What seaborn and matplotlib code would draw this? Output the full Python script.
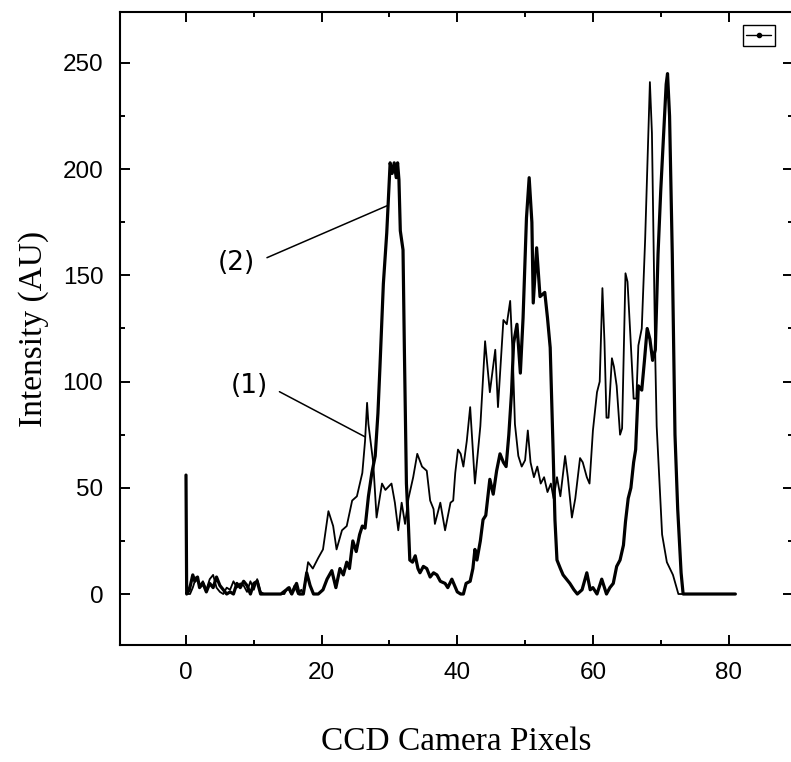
import numpy as np
import pandas as pd
import seaborn as sns
import matplotlib.pyplot as plt
from matplotlib.lines import Line2D
from matplotlib.ticker import MultipleLocator

# %% Data (CCD pixel vs intensity)
pix_2 = [0, 0.1, 0.5, 1.0, 1.3, 1.7, 2.0, 2.5, 3.0, 3.5, 4.0, 4.5, 5.0, 5.5, 6.0, 6.5,
         7.0, 7.5, 8.0, 8.5, 9.0, 9.5, 10.0, 10.5, 11.0, 12.0, 14.0, 15.2, 15.6, 16.3,
         16.7, 17.3, 17.8, 18.3, 18.8, 19.5, 20.2, 20.8, 21.5, 22.1, 22.7, 23.2, 23.7,
         24.1, 24.6, 25.1, 25.6, 26.0, 26.4, 26.9, 27.4, 27.9, 28.3, 28.6, 29.1, 29.6,
         29.9, 30.1, 30.4, 30.7, 31.0, 31.2, 31.4, 31.6, 32.0, 32.2, 32.5, 32.8, 33.0,
         33.4, 33.8, 34.2, 34.5, 35.0, 35.5, 36.0, 36.5, 37.0, 37.5, 38.2, 38.6, 39.2,
         39.6, 40.0, 40.5, 40.9, 41.3, 41.9, 42.3, 42.6, 42.9, 43.4, 43.8, 44.2, 44.8,
         45.3, 45.8, 46.3, 46.8, 47.2, 47.6, 48.0, 48.3, 48.8, 49.3, 49.7, 50.2, 50.6,
         51.0, 51.2, 51.7, 52.2, 52.9, 53.3, 53.7, 54.1, 54.4, 54.7, 55.2, 55.6, 56.1,
         56.6, 57.2, 57.7, 58.4, 59.1, 59.6, 60.0, 60.6, 61.3, 62.0, 62.5, 63.0, 63.5,
         64.0, 64.5, 64.8, 65.2, 65.6, 66.0, 66.3, 66.7, 67.2, 67.6, 68.0, 68.4, 68.8,
         69.2, 69.6, 70.0, 70.4, 70.8, 71.0, 71.3, 71.7, 72.1, 72.5, 73.0, 73.3, 81.0]
int_2 = [56, 0, 2, 9, 6, 8, 3, 5, 1, 5, 3, 8, 4, 2, 0, 1,
         0, 5, 3, 6, 4, 0, 5, 6, 0, 0, 0, 3, 0, 5,
         0, 0, 10, 4, 0, 0, 2, 7, 11, 3, 12, 9, 15,
         12, 25, 20, 28, 32, 31, 46, 57, 65, 85, 107, 146, 170,
         190, 203, 198, 203, 196, 203, 195, 171, 162, 115, 52, 32, 16,
         15, 18, 12, 10, 13, 12, 8, 10, 9, 6, 5, 3, 7,
         4, 1, 0, 0, 5, 6, 12, 21, 16, 25, 35, 37, 54,
         47, 58, 66, 62, 60, 75, 95, 118, 127, 104, 130, 177, 196,
         175, 137, 163, 140, 142, 130, 116, 71, 35, 16, 12, 9, 7,
         5, 2, 0, 2, 10, 2, 3, 0, 7, 0, 3, 5, 13,
         16, 23, 34, 45, 50, 62, 68, 98, 96, 110, 125, 120, 110,
         115, 160, 190, 215, 240, 245, 225, 160, 75, 40, 10, 0, 0]

pix_1 = [0.2, 0.6, 1.0, 1.5, 2.0, 2.5, 3.0, 3.5, 4.0, 4.5, 5.0, 5.5, 6.0, 6.5, 7.0,
         7.5, 8.0, 8.5, 9.0, 9.5, 10.0, 10.5, 11.0, 11.5, 14.5, 15.0, 15.5, 16.0, 16.5,
         17.0, 17.3, 18.0, 18.7, 19.5, 20.2, 21.0, 21.7, 22.2, 23.0, 23.7, 24.5, 25.2,
         26.0, 26.4, 26.7, 26.9, 27.6, 28.1, 28.9, 29.4, 30.3, 30.8, 31.3, 31.8, 32.3,
         32.8, 33.5, 34.1, 34.8, 35.5, 36.0, 36.5, 36.7, 37.5, 38.2, 39.0, 39.4, 39.7,
         40.1, 40.5, 40.9, 41.4, 41.9, 42.6, 43.4, 44.1, 44.8, 45.6, 46.0, 46.8, 47.3,
         47.8, 48.2, 48.5, 49.0, 49.5, 50.0, 50.4, 50.8, 51.3, 51.8, 52.3, 52.8, 53.3,
         53.8, 54.2, 54.7, 55.2, 55.9, 56.3, 56.9, 57.4, 58.1, 58.5, 59.1, 59.5, 60.0,
         60.6, 61.0, 61.4, 61.7, 62.0, 62.3, 62.8, 63.1, 63.5, 64.0, 64.3, 64.8, 65.1,
         65.5, 66.0, 66.4, 66.7, 67.2, 67.7, 68.2, 68.4, 68.7, 69.2, 69.4, 70.2, 70.9,
         71.8, 72.6, 81.0]
int_1 = [0, 0, 3, 8, 4, 6, 2, 7, 9, 3, 1, 0, 3, 2, 6,
         3, 5, 4, 1, 6, 2, 7, 1, 0, 0, 3, 0, 4, 0,
         2, 0, 15, 12, 17, 21, 39, 32, 21, 30, 32, 44, 46,
         57, 72, 90, 80, 62, 36, 52, 49, 52, 43, 30, 43, 33,
         45, 55, 66, 60, 58, 44, 40, 33, 43, 30, 43, 44, 57,
         68, 66, 60, 72, 88, 52, 79, 119, 95, 115, 88, 129, 127,
         138, 110, 80, 65, 60, 63, 77, 62, 55, 60, 52, 55, 48,
         52, 45, 55, 46, 65, 55, 36, 45, 64, 62, 55, 52, 77,
         95, 100, 144, 119, 83, 83, 111, 107, 98, 75, 78, 151, 147,
         123, 92, 92, 117, 125, 167, 219, 241, 217, 110, 79, 28, 15,
         9, 0, 0]

# curve labels: text position and the point on the curve they point to
label_text = ["(2)", "(1)"]
label_pos = [(7.5, 156), (9.4, 98)]
label_target = [(29.8, 183), (26.4, 74)]

df = pd.concat([
    pd.DataFrame({"pixel": pix_2, "intensity": int_2, "curve": "2"}),
    pd.DataFrame({"pixel": pix_1, "intensity": int_1, "curve": "1"}),
])

# %% Plot
sns.set_style("ticks", {"xtick.direction": "in", "ytick.direction": "in"})
plt.rcParams.update({
    "text.color": "black",
    "axes.labelcolor": "black",
    "xtick.color": "black",
    "ytick.color": "black",
})

fig = plt.figure(figsize=(7.91, 7.62), dpi=100)
ax = fig.add_axes([120 / 791, 117 / 762, 673 / 791, 633 / 762])

sns.lineplot(data=df[df.curve == "2"], x="pixel", y="intensity",
             color="black", lw=2.3, estimator=None, sort=False, ax=ax)
sns.lineplot(data=df[df.curve == "1"], x="pixel", y="intensity",
             color="black", lw=1.3, estimator=None, sort=False, ax=ax)

for txt, pos, tgt in zip(label_text, label_pos, label_target):
    ax.annotate(txt, xy=tgt, xytext=pos, ha="center", va="center",
                fontsize=19, family=["DejaVu Sans"], color="black",
                arrowprops=dict(arrowstyle="-", lw=1.1, color="black",
                                relpos=(1, 0.5), patchA=None,
                                shrinkA=9, shrinkB=0))

ax.set_xlim(-9.73, 89.5)
ax.set_ylim(-24, 274)
ax.xaxis.set_major_locator(MultipleLocator(20))
ax.xaxis.set_minor_locator(MultipleLocator(10))
ax.yaxis.set_major_locator(MultipleLocator(50))
ax.yaxis.set_minor_locator(MultipleLocator(25))
ax.tick_params(which="both", top=True, right=True, width=1.4, color="black")
ax.tick_params(which="major", length=7, labelsize=17.5, pad=12)
ax.tick_params(which="minor", length=3.5)
for lbl in ax.get_xticklabels() + ax.get_yticklabels():
    lbl.set_family("Liberation Sans")
for sp in ax.spines.values():
    sp.set_linewidth(1.5)
    sp.set_color("black")

ax.set_xlabel("CCD Camera Pixels", family="Liberation Serif", fontsize=24,
              labelpad=31)
ax.set_ylabel("Intensity (AU)", family="Liberation Serif", fontsize=24,
              labelpad=10)

handle = Line2D([], [], color="black", lw=1, marker="o", ms=3)
ax.legend([handle], [""], loc="upper right", bbox_to_anchor=(0.98, 0.967),
          bbox_transform=fig.transFigure, fancybox=False, edgecolor="black",
          framealpha=1, fontsize=9, handlelength=2, handletextpad=0,
          borderpad=0.3, borderaxespad=0)

fig.savefig("out.png", dpi=100)
